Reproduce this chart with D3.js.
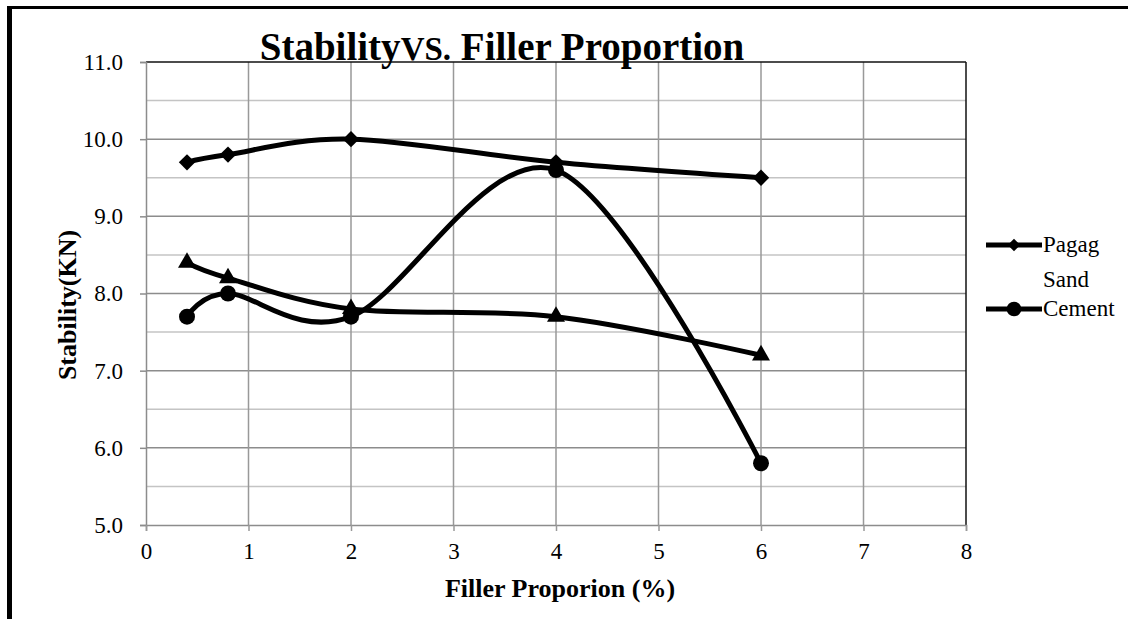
<!DOCTYPE html>
<html>
<head>
<meta charset="utf-8">
<script src="https://cdn.jsdelivr.net/npm/d3@7/dist/d3.min.js"></script>
<style>
  html, body { margin: 0; padding: 0; background: #fff; }
  svg { display: block; font-family: "Liberation Serif", "Times New Roman", serif; }
</style>
</head>
<body>
<svg id="chart" width="1128" height="619"></svg>
<script>
// Filler proportion (%) at each test point
const fillerPct = [0.4, 0.8, 2, 4, 6];
// Marshall stability (kN) for each filler type
const pagagSand = [9.7, 9.8, 10.0, 9.7, 9.5];
const cement = [7.7, 8.0, 7.7, 9.6, 5.8];
const thirdFiller = [8.4, 8.2, 7.8, 7.7, 7.2];

const xTicks = [0, 1, 2, 3, 4, 5, 6, 7, 8];
const yTicks = [5, 6, 7, 8, 9, 10, 11];
const yMinor = [5.5, 6.5, 7.5, 8.5, 9.5, 10.5];

const seriesList = [
  { name: "Pagag Sand", values: pagagSand, marker: "diamond", legend: ["Pagag", "Sand"] },
  { name: "Cement", values: cement, marker: "circle", legend: ["Cement"] },
  { name: "", values: thirdFiller, marker: "triangle", legend: null }
];

const svg = d3.select("#chart");
const plot = { left: 146, right: 966, top: 62, bottom: 525 };

const x = d3.scaleLinear().domain([0, 8]).range([plot.left, plot.right]);
const y = d3.scaleLinear().domain([5, 11]).range([plot.bottom, plot.top]);

// outer frame (left and top edges)
svg.append("rect").attr("x", 7).attr("y", 6).attr("width", 5).attr("height", 613).attr("fill", "#000");
svg.append("rect").attr("x", 7).attr("y", 6).attr("width", 1121).attr("height", 3).attr("fill", "#000");

// minor horizontal gridlines
svg.append("g").selectAll("line").data(yMinor).join("line")
  .attr("x1", plot.left).attr("x2", plot.right)
  .attr("y1", d => y(d)).attr("y2", d => y(d))
  .attr("stroke", "#c4c4c4").attr("stroke-width", 1.5);

// major horizontal gridlines
svg.append("g").selectAll("line").data(yTicks.filter(d => d > 5 && d < 11)).join("line")
  .attr("x1", plot.left).attr("x2", plot.right)
  .attr("y1", d => y(d)).attr("y2", d => y(d))
  .attr("stroke", "#8c8c8c").attr("stroke-width", 1.5);

// vertical gridlines
svg.append("g").selectAll("line").data(xTicks.filter(d => d > 0 && d < 8)).join("line")
  .attr("x1", d => x(d)).attr("x2", d => x(d))
  .attr("y1", plot.top).attr("y2", plot.bottom)
  .attr("stroke", "#999").attr("stroke-width", 1.5);

// plot border: top and right are dark
svg.append("line").attr("x1", plot.left).attr("x2", plot.right).attr("y1", plot.top).attr("y2", plot.top)
  .attr("stroke", "#111").attr("stroke-width", 1.5);
svg.append("line").attr("x1", plot.right).attr("x2", plot.right).attr("y1", plot.top).attr("y2", plot.bottom)
  .attr("stroke", "#111").attr("stroke-width", 1.5);

// y axis
const yAxis = d3.axisLeft(y).tickValues(yTicks).tickFormat(d3.format(".1f")).tickSize(6).tickPadding(17);
const gy = svg.append("g").attr("transform", `translate(${plot.left},0)`).call(yAxis);
gy.select(".domain").attr("stroke", "#8c8c8c").attr("stroke-width", 1.5);
gy.selectAll(".tick line").attr("stroke", "#8c8c8c").attr("stroke-width", 1.5);
gy.selectAll(".tick text").attr("font-size", 23).attr("font-family", "Liberation Serif").attr("fill", "#000");

// x axis
const xAxis = d3.axisBottom(x).tickValues(xTicks).tickFormat(d3.format("d")).tickSize(6).tickPadding(12);
const gx = svg.append("g").attr("transform", `translate(0,${plot.bottom})`).call(xAxis);
gx.select(".domain").attr("stroke", "#8c8c8c").attr("stroke-width", 1.5);
gx.selectAll(".tick line").attr("stroke", "#999").attr("stroke-width", 1.5);
gx.selectAll(".tick text").attr("font-size", 23).attr("font-family", "Liberation Serif").attr("fill", "#000");

// smoothed series lines
const line = d3.line()
  .x(d => x(d[0])).y(d => y(d[1]))
  .curve(d3.curveCardinal.tension(0));

const markerPath = {
  diamond: d3.symbol().type(d3.symbolDiamond2).size(170),
  circle: d3.symbol().type(d3.symbolCircle).size(200),
  triangle: d3.symbol().type(d3.symbolTriangle).size(140)
};

seriesList.forEach(s => {
  const pts = fillerPct.map((f, i) => [f, s.values[i]]);
  svg.append("path").datum(pts)
    .attr("d", line)
    .attr("fill", "none").attr("stroke", "#000").attr("stroke-width", 5)
    .attr("stroke-linejoin", "round");
  svg.append("g").selectAll("path").data(pts).join("path")
    .attr("d", markerPath[s.marker])
    .attr("transform", d => `translate(${x(d[0])},${y(d[1])})`)
    .attr("fill", "#000");
});

// title
const title = svg.append("text")
  .attr("x", 502).attr("y", 60)
  .attr("text-anchor", "middle")
  .attr("font-size", 39).attr("font-weight", "bold").attr("fill", "#000");
title.append("tspan").text("Stability");
title.append("tspan").attr("font-size", 33).text("VS.");
title.append("tspan").text(" Filler Proportion");

// axis titles
svg.append("text")
  .attr("transform", "translate(76,305) rotate(-90)")
  .attr("text-anchor", "middle")
  .attr("font-size", 26).attr("font-weight", "bold")
  .text("Stability(KN)");

svg.append("text")
  .attr("x", 560).attr("y", 597)
  .attr("text-anchor", "middle")
  .attr("font-size", 26).attr("font-weight", "bold")
  .text("Filler Proporion (%)");

// legend
const legendItems = seriesList.filter(s => s.legend);
const legendY = [245, 309];
const legendMarker = {
  diamond: d3.symbol().type(d3.symbolDiamond2).size(100),
  circle: d3.symbol().type(d3.symbolCircle).size(170)
};
legendItems.forEach((s, i) => {
  const g = svg.append("g").attr("transform", `translate(0,${legendY[i]})`);
  g.append("line").attr("x1", 986).attr("x2", 1042).attr("y1", 0).attr("y2", 0)
    .attr("stroke", "#000").attr("stroke-width", 5);
  g.append("path").attr("d", legendMarker[s.marker]).attr("transform", "translate(1014,0)").attr("fill", "#000");
  s.legend.forEach((t, j) => {
    g.append("text").attr("x", 1043).attr("y", 7 + j * 35)
      .attr("font-size", 23).attr("fill", "#000").text(t);
  });
});
</script>
</body>
</html>
